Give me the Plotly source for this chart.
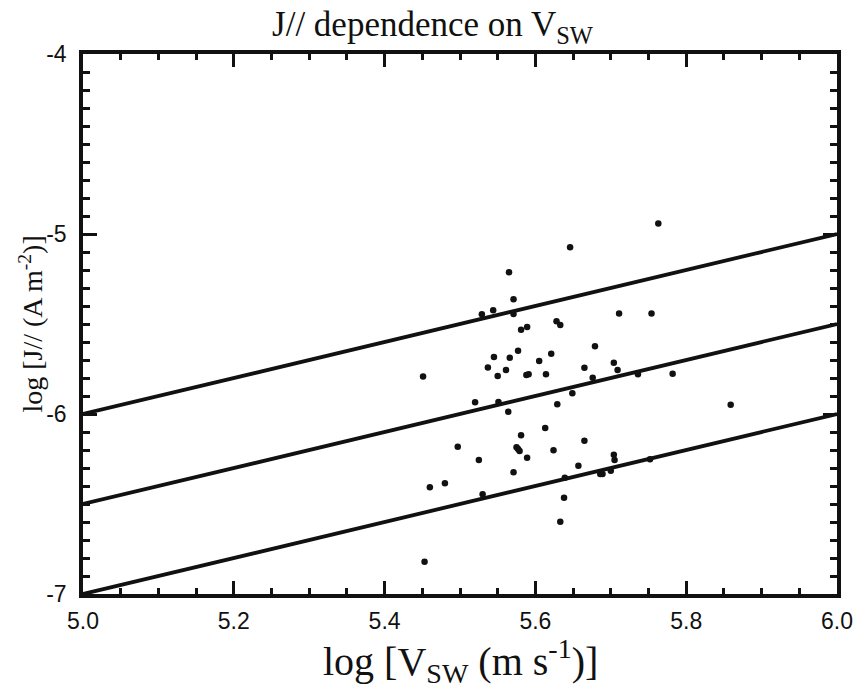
import plotly.graph_objects as go

# Scatter data: log V_SW (m/s) and log J// (A/m^2)
log_vsw = [5.646, 5.565, 5.571, 5.529, 5.544, 5.571, 5.581, 5.589, 5.628, 5.633,
           5.711, 5.679, 5.545, 5.566, 5.577, 5.621, 5.605, 5.537, 5.561, 5.550,
           5.588, 5.591, 5.614, 5.665, 5.704, 5.709, 5.676, 5.451, 5.649, 5.520,
           5.551, 5.564, 5.629, 5.613, 5.581, 5.497, 5.575, 5.577, 5.579, 5.525,
           5.589, 5.624, 5.665, 5.704, 5.705, 5.657, 5.571, 5.460, 5.480, 5.530,
           5.639, 5.686, 5.689, 5.700, 5.638, 5.633, 5.453, 5.763, 5.754, 5.736,
           5.782, 5.859, 5.752]
log_j = [-5.074, -5.213, -5.363, -5.446, -5.424, -5.444, -5.532, -5.517, -5.485, -5.506,
         -5.441, -5.624, -5.683, -5.687, -5.648, -5.665, -5.706, -5.741, -5.756, -5.789,
         -5.783, -5.779, -5.779, -5.743, -5.715, -5.756, -5.798, -5.791, -5.885, -5.935,
         -5.933, -5.987, -5.946, -6.078, -6.118, -6.182, -6.185, -6.194, -6.206, -6.256,
         -6.243, -6.202, -6.148, -6.226, -6.256, -6.287, -6.324, -6.407, -6.385, -6.446,
         -6.354, -6.333, -6.333, -6.315, -6.465, -6.598, -6.821, -4.941, -5.441, -5.779,
         -5.776, -5.948, -6.252]

# Reference lines of slope 1 (log J = log V + offset)
line_x = [5.0, 6.0]
line_offsets = [-11.0, -11.5, -12.0]

x_tickvals = [5.0, 5.2, 5.4, 5.6, 5.8, 6.0]
x_ticktext = ["5.0", "5.2", "5.4", "5.6", "5.8", "6.0"]
y_tickvals = [-4, -5, -6, -7]
y_ticktext = ["-4", "-5", "-6", "-7"]

fig = go.Figure()
for off in line_offsets:
    fig.add_trace(go.Scatter(x=line_x, y=[v + off for v in line_x], mode="lines",
                             line=dict(color="#111111", width=3.8), showlegend=False,
                             hoverinfo="skip"))
fig.add_trace(go.Scatter(x=log_vsw, y=log_j, mode="markers",
                         marker=dict(color="#111111", size=6.5), showlegend=False))

serif = "Liberation Serif"
sans = "Liberation Sans"

fig.update_layout(
    width=865, height=689,
    margin=dict(l=83, r=20, t=54, b=95),
    plot_bgcolor="white", paper_bgcolor="white",
    title=dict(text="J// dependence on V<sub>SW</sub>", x=0.5, xanchor="center",
               y=1 - 24 / 689, yanchor="middle", yref="container",
               font=dict(family=serif, size=35, color="#111111")),
    xaxis=dict(range=[5.0, 6.0], tickvals=x_tickvals, ticktext=x_ticktext,
               ticks="inside", ticklen=13, tickwidth=2.8, tickcolor="#111111",
               showline=True, linewidth=3.5, linecolor="#111111", mirror="allticks",
               showgrid=False, zeroline=False, ticklabelstandoff=4,
               tickfont=dict(family=sans, size=23, color="#111111"),
               minor=dict(dtick=0.05, tick0=5.0, ticks="inside", ticklen=6,
                          tickwidth=2.8, tickcolor="#111111", showgrid=False)),
    yaxis=dict(range=[-7.0, -4.0], tickvals=y_tickvals, ticktext=y_ticktext,
               ticks="inside", ticklen=14, tickwidth=2.8, tickcolor="#111111",
               showline=True, linewidth=3.5, linecolor="#111111", mirror="allticks",
               showgrid=False, zeroline=False, ticklabelstandoff=8,
               tickfont=dict(family=sans, size=23, color="#111111"),
               minor=dict(dtick=0.1, tick0=-7.0, ticks="inside", ticklen=7,
                          tickwidth=2.8, tickcolor="#111111", showgrid=False)),
)

fig.add_annotation(text="log [V<sub>SW</sub> (m s<sup>-1</sup>)]", xref="paper", yref="paper",
                   x=0.5, y=-(661 - 594) / 540, xanchor="center", yanchor="middle",
                   showarrow=False, font=dict(family=serif, size=40, color="#111111"))
fig.add_annotation(text="log [J// (A m<sup>-2</sup>)]", xref="paper", yref="paper",
                   x=-(83 - 30) / 762, y=0.5, xanchor="center", yanchor="middle",
                   textangle=-90, showarrow=False,
                   font=dict(family=serif, size=28, color="#111111"))

fig.write_html("out.html")
